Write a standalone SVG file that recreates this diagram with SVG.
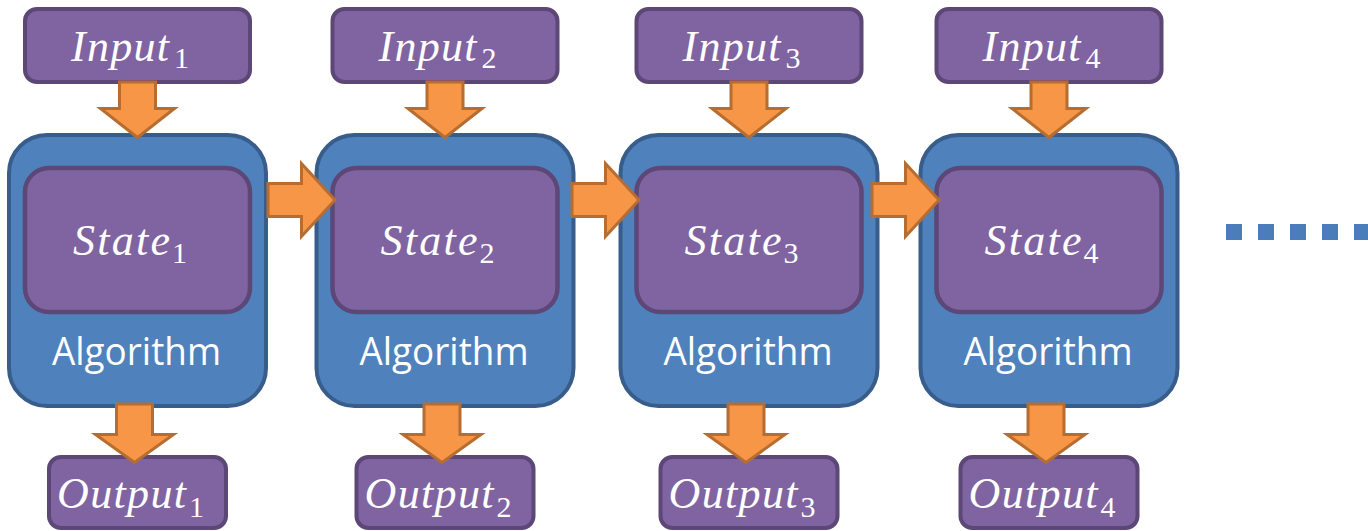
<svg xmlns="http://www.w3.org/2000/svg" width="1368" height="531" viewBox="0 0 1368 531">
  <defs>
    <style>
      .io { fill: #8064a2; stroke: #5c4776; stroke-width: 4; }
      .alg { fill: #4f81bd; stroke: #385d8a; stroke-width: 4; }
      .state { fill: #8064a2; stroke: #5c4776; stroke-width: 4.5; }
      .arrow { fill: #f79646; stroke: #b66d31; stroke-width: 3; stroke-linejoin: miter; }
      .math { font-family: "Liberation Serif", "DejaVu Serif", serif; font-style: italic; font-size: 44px; fill: #ffffff; }
      .sub { font-style: normal; font-size: 30px; }
      .label { font-family: "Open Sans", "Liberation Sans", sans-serif; font-size: 39px; fill: #ffffff; }
      .dot { fill: #4a7ebb; }
    </style>
    <!-- shared shapes, drawn in column-1 coordinates -->
    <path id="arrow-down-in" d="M119.5,82 H155.5 V108.5 H174.5 L137.5,137.5 L100.5,108.5 H119.5 Z"/>
    <path id="arrow-down-out" d="M116.5,404 H152.5 V434.5 H173.5 L134.5,462.5 L95.5,434.5 H116.5 Z"/>
    <path id="arrow-right" d="M268,183.5 H301.5 V163.5 L335,200 L301.5,236.5 V216.5 H268 Z"/>
  </defs>

  <!-- column 1 -->
  <g id="input-1">
    <rect class="io" x="25" y="9" width="225" height="73" rx="12"/>
    <text class="math" y="61"><tspan x="71" textLength="98" lengthAdjust="spacing">Input</tspan><tspan class="sub" x="174" y="68">1</tspan></text>
  </g>
  <g id="algorithm-1">
    <rect class="alg" x="9" y="135" width="257" height="271" rx="38"/>
    <text class="label" x="52" y="365" textLength="169" lengthAdjust="spacingAndGlyphs">Algorithm</text>
  </g>
  <g id="state-1">
    <rect class="state" x="25" y="168" width="225" height="144" rx="24"/>
    <text class="math" y="255"><tspan x="73" textLength="97" lengthAdjust="spacing">State</tspan><tspan class="sub" x="172" y="263">1</tspan></text>
  </g>
  <g id="output-1">
    <rect class="io" x="49" y="457" width="177" height="71" rx="12"/>
    <text class="math" y="508"><tspan x="57" textLength="129" lengthAdjust="spacing">Output</tspan><tspan class="sub" x="189" y="517">1</tspan></text>
  </g>

  <!-- column 2 -->
  <g id="input-2" transform="translate(307.5,0)">
    <rect class="io" x="25" y="9" width="225" height="73" rx="12"/>
    <text class="math" y="61"><tspan x="71" textLength="98" lengthAdjust="spacing">Input</tspan><tspan class="sub" x="174" y="68">2</tspan></text>
  </g>
  <g id="algorithm-2" transform="translate(307.5,0)">
    <rect class="alg" x="9" y="135" width="257" height="271" rx="38"/>
    <text class="label" x="52" y="365" textLength="169" lengthAdjust="spacingAndGlyphs">Algorithm</text>
  </g>
  <g id="state-2" transform="translate(307.5,0)">
    <rect class="state" x="25" y="168" width="225" height="144" rx="24"/>
    <text class="math" y="255"><tspan x="73" textLength="97" lengthAdjust="spacing">State</tspan><tspan class="sub" x="172" y="263">2</tspan></text>
  </g>
  <g id="output-2" transform="translate(307.5,0)">
    <rect class="io" x="49" y="457" width="177" height="71" rx="12"/>
    <text class="math" y="508"><tspan x="57" textLength="129" lengthAdjust="spacing">Output</tspan><tspan class="sub" x="189" y="517">2</tspan></text>
  </g>

  <!-- column 3 -->
  <g id="input-3" transform="translate(611.5,0)">
    <rect class="io" x="25" y="9" width="225" height="73" rx="12"/>
    <text class="math" y="61"><tspan x="71" textLength="98" lengthAdjust="spacing">Input</tspan><tspan class="sub" x="174" y="68">3</tspan></text>
  </g>
  <g id="algorithm-3" transform="translate(611.5,0)">
    <rect class="alg" x="9" y="135" width="257" height="271" rx="38"/>
    <text class="label" x="52" y="365" textLength="169" lengthAdjust="spacingAndGlyphs">Algorithm</text>
  </g>
  <g id="state-3" transform="translate(611.5,0)">
    <rect class="state" x="25" y="168" width="225" height="144" rx="24"/>
    <text class="math" y="255"><tspan x="73" textLength="97" lengthAdjust="spacing">State</tspan><tspan class="sub" x="172" y="263">3</tspan></text>
  </g>
  <g id="output-3" transform="translate(611.5,0)">
    <rect class="io" x="49" y="457" width="177" height="71" rx="12"/>
    <text class="math" y="508"><tspan x="57" textLength="129" lengthAdjust="spacing">Output</tspan><tspan class="sub" x="189" y="517">3</tspan></text>
  </g>

  <!-- column 4 -->
  <g id="input-4" transform="translate(911.5,0)">
    <rect class="io" x="25" y="9" width="225" height="73" rx="12"/>
    <text class="math" y="61"><tspan x="71" textLength="98" lengthAdjust="spacing">Input</tspan><tspan class="sub" x="174" y="68">4</tspan></text>
  </g>
  <g id="algorithm-4" transform="translate(911.5,0)">
    <rect class="alg" x="9" y="135" width="257" height="271" rx="38"/>
    <text class="label" x="52" y="365" textLength="169" lengthAdjust="spacingAndGlyphs">Algorithm</text>
  </g>
  <g id="state-4" transform="translate(911.5,0)">
    <rect class="state" x="25" y="168" width="225" height="144" rx="24"/>
    <text class="math" y="255"><tspan x="73" textLength="97" lengthAdjust="spacing">State</tspan><tspan class="sub" x="172" y="263">4</tspan></text>
  </g>
  <g id="output-4" transform="translate(911.5,0)">
    <rect class="io" x="49" y="457" width="177" height="71" rx="12"/>
    <text class="math" y="508"><tspan x="57" textLength="129" lengthAdjust="spacing">Output</tspan><tspan class="sub" x="189" y="517">4</tspan></text>
  </g>

  <!-- block arrows: inputs in, outputs out, state carried to the next step -->
  <g id="connectors">
    <use class="arrow" href="#arrow-down-in"/>
    <use class="arrow" href="#arrow-down-in" transform="translate(307.5,0)"/>
    <use class="arrow" href="#arrow-down-in" transform="translate(611.5,0)"/>
    <use class="arrow" href="#arrow-down-in" transform="translate(911.5,0)"/>
    <use class="arrow" href="#arrow-down-out"/>
    <use class="arrow" href="#arrow-down-out" transform="translate(307.5,0)"/>
    <use class="arrow" href="#arrow-down-out" transform="translate(611.5,0)"/>
    <use class="arrow" href="#arrow-down-out" transform="translate(911.5,0)"/>
    <use class="arrow" href="#arrow-right"/>
    <use class="arrow" href="#arrow-right" transform="translate(304,0)"/>
    <use class="arrow" href="#arrow-right" transform="translate(604,0)"/>
  </g>

  <!-- continuation dots -->
  <g id="ellipsis">
    <rect class="dot" x="1226" y="224" width="16" height="16"/>
    <rect class="dot" x="1258" y="224" width="16" height="16"/>
    <rect class="dot" x="1290" y="224" width="16" height="16"/>
    <rect class="dot" x="1322" y="224" width="16" height="16"/>
    <rect class="dot" x="1354" y="224" width="16" height="16"/>
  </g>
</svg>
